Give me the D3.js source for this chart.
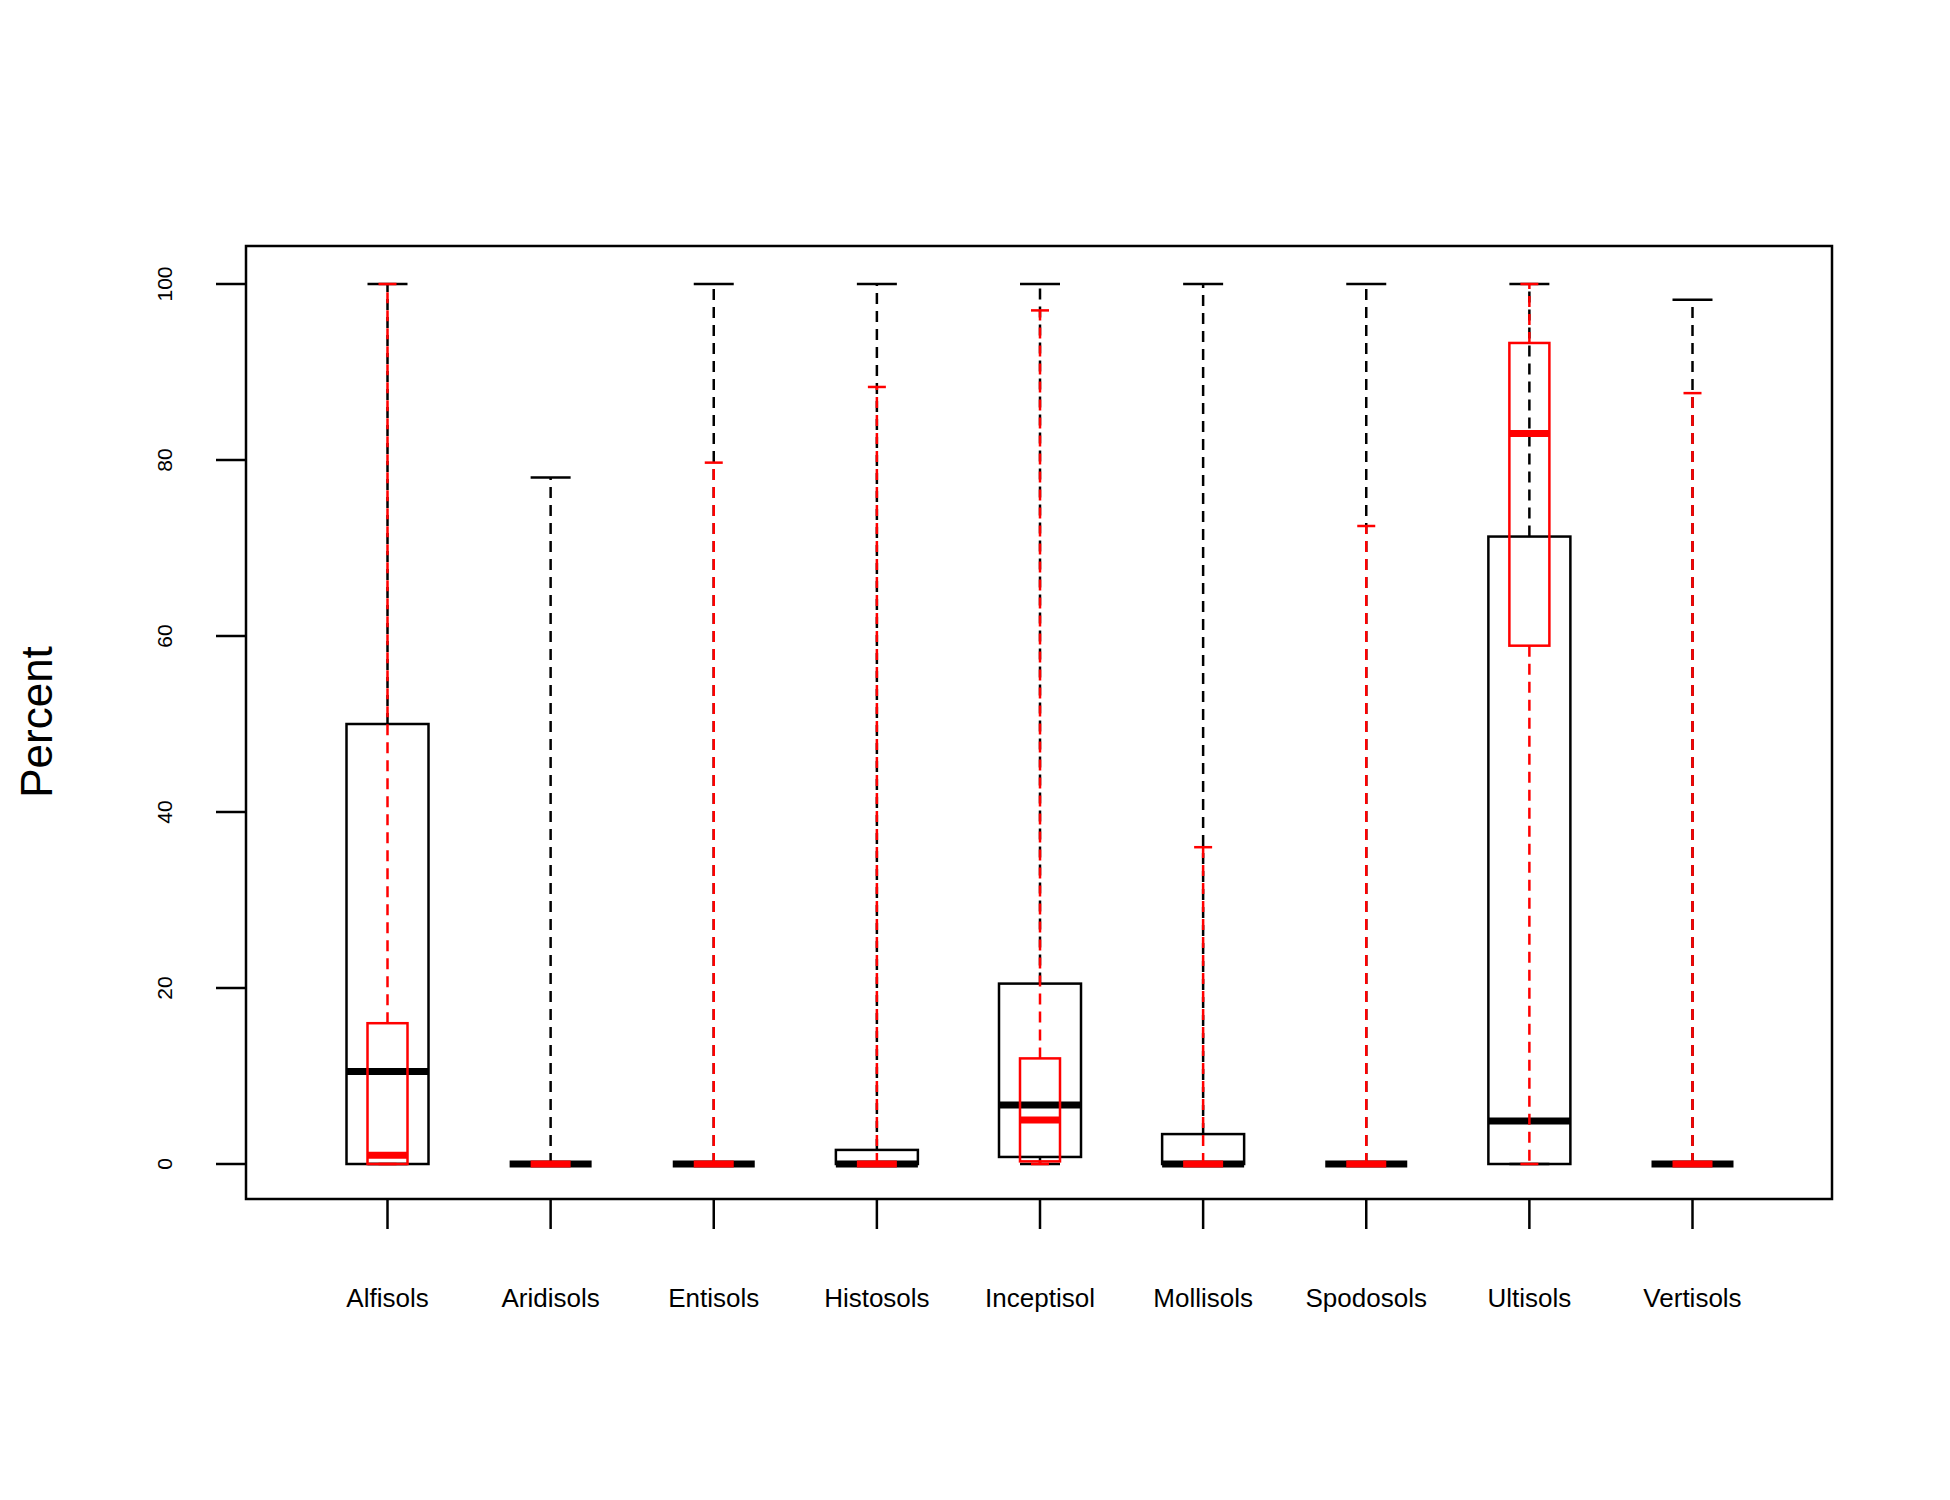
<!DOCTYPE html>
<html><head><meta charset="utf-8">
<script src="https://cdn.jsdelivr.net/npm/d3@7"></script>
<style>body{margin:0;background:#fff}svg{font-family:"Liberation Sans",Arial,sans-serif}</style>
</head><body><svg id="chart" width="1950" height="1500"></svg>
<script>
// soil orders
const orders = ['Alfisols','Aridisols','Entisols','Histosols','Inceptisol','Mollisols','Spodosols','Ultisols','Vertisols'];
// [lower whisker, q1, median, q3, upper whisker]
const blackStats = [
  [0, 0, 10.5, 50, 100],
  [0, 0, 0, 0, 78],
  [0, 0, 0, 0, 100],
  [0, 0, 0, 1.6, 100],
  [0, 0.8, 6.7, 20.5, 100],
  [0, 0, 0, 3.4, 100],
  [0, 0, 0, 0, 100],
  [0, 0, 4.9, 71.3, 100],
  [0, 0, 0, 0, 98.2]
];
const redStats = [
  [0, 0, 1, 16, 100],
  [0, 0, 0, 0, 0],
  [0, 0, 0, 0, 79.7],
  [0, 0, 0, 0, 88.3],
  [0, 0.3, 5, 12, 97],
  [0, 0, 0, 0, 36],
  [0, 0, 0, 0, 72.5],
  [0, 58.9, 83, 93.3, 100],
  [0, 0, 0, 0, 87.6]
];
const yTicks = [0, 20, 40, 60, 80, 100];

const svg = d3.select('#chart');
const box = {l: 246, r: 1832, t: 246, b: 1199};

const x = d3.scalePoint().domain(orders).range([387.5, 1692.5]);
const y = d3.scaleLinear().domain([0, 100]).range([1164, 284]);

// frame
svg.append('rect').attr('x', box.l).attr('y', box.t)
  .attr('width', box.r - box.l).attr('height', box.b - box.t)
  .attr('fill', 'none').attr('stroke', '#000').attr('stroke-width', 2.5);

// y axis
const yAxis = svg.append('g');
yAxis.selectAll('line').data(yTicks).enter().append('line')
  .attr('x1', box.l - 30).attr('x2', box.l)
  .attr('y1', d => y(d)).attr('y2', d => y(d))
  .attr('stroke', '#000').attr('stroke-width', 2.5);
yAxis.selectAll('text').data(yTicks).enter().append('text')
  .attr('transform', d => `translate(172,${y(d)}) rotate(-90)`)
  .attr('text-anchor', 'middle').attr('font-size', 21).text(d => d);

// x axis
svg.append('g').selectAll('line').data(orders).enter().append('line')
  .attr('x1', d => x(d)).attr('x2', d => x(d))
  .attr('y1', box.b).attr('y2', box.b + 30)
  .attr('stroke', '#000').attr('stroke-width', 2.5);
svg.append('g').selectAll('text').data(orders).enter().append('text')
  .attr('x', d => x(d)).attr('y', 1307)
  .attr('text-anchor', 'middle').attr('font-size', 26).text(d => d);

svg.append('text').attr('transform', 'translate(52,722) rotate(-90)')
  .attr('text-anchor', 'middle').attr('font-size', 44).text('Percent');

function drawBoxes(stats, color, half, capHalf) {
  const g = svg.append('g');
  stats.forEach((s, i) => {
    const cx = x(orders[i]);
    const [lo, q1, med, q3, hi] = s;
    // whiskers
    [[q3, hi], [q1, lo]].forEach(([a, b]) => {
      if (a !== b) {
        g.append('line').attr('x1', cx).attr('x2', cx).attr('y1', y(a)).attr('y2', y(b))
          .attr('stroke', color).attr('stroke-width', 2.5).attr('stroke-dasharray', '11,7');
      }
      g.append('line').attr('x1', cx - capHalf).attr('x2', cx + capHalf)
        .attr('y1', y(b)).attr('y2', y(b)).attr('stroke', color).attr('stroke-width', 2.5);
    });
    g.append('rect').attr('x', cx - half).attr('y', y(q3))
      .attr('width', half * 2).attr('height', Math.max(0, y(q1) - y(q3)))
      .attr('fill', 'none').attr('stroke', color).attr('stroke-width', 2.5);
    g.append('line').attr('x1', cx - half).attr('x2', cx + half)
      .attr('y1', y(med)).attr('y2', y(med)).attr('stroke', color).attr('stroke-width', 7);
  });
}

drawBoxes(blackStats, '#000', 41, 20);
drawBoxes(redStats, '#ff0000', 20, 9);
</script></body></html>
